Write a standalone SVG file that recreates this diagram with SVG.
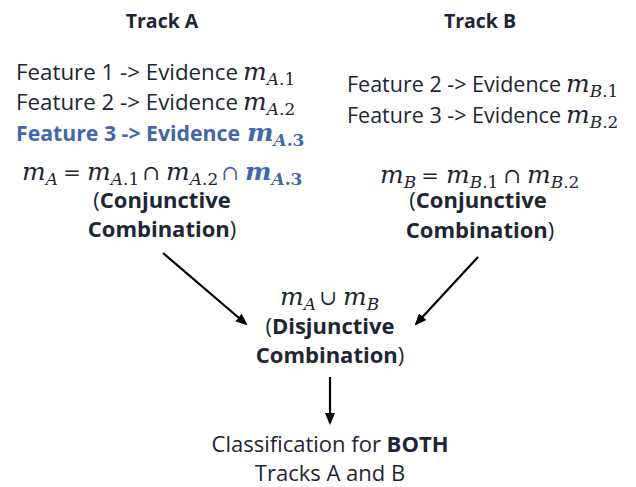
<svg xmlns="http://www.w3.org/2000/svg" width="636" height="487" viewBox="0 0 636 487">
  <style>
    .t { font-family: "Open Sans", "Noto Sans", sans-serif; font-size: 22px; fill: #1e2535; }
    .hd { font-family: "Open Sans", "Noto Sans", sans-serif; font-size: 19.5px; font-weight: bold; fill: #1e2535; }
    .h { font-weight: bold; }
    .mt { font-family: "DejaVu Serif", "Liberation Serif", serif; fill: #1e2535; }
    .m { font-style: italic; font-size: 25px; }
    .s { font-size: 17px; }
    .si { font-style: italic; }
    .op { font-family: "DejaVu Serif", "Liberation Serif", serif; font-size: 21px; fill: #1e2535; }
    .blue { fill: #4466aa; }
    .arrow { stroke: #000; stroke-width: 2.2; fill: none; marker-end: url(#head); }
  </style>
  <defs>
    <marker id="head" markerWidth="12" markerHeight="10" refX="10" refY="5" orient="auto" markerUnits="userSpaceOnUse" viewBox="0 0 12 10">
      <path d="M0,0 L12,5 L0,10 Z" fill="#000"/>
    </marker>
  </defs>
  <rect width="636" height="487" fill="#fff"/>

  <g id="trackA">
    <text class="hd" x="162" y="28" text-anchor="middle">Track A</text>
    <text class="t" x="16" y="80" textLength="222" lengthAdjust="spacingAndGlyphs">Feature 1 -&gt; Evidence</text>
    <text class="mt" x="243" y="80"><tspan class="m">m</tspan><tspan class="s" dy="5"><tspan class="si">A</tspan>.1</tspan></text>
    <text class="t" x="16" y="110" textLength="222" lengthAdjust="spacingAndGlyphs">Feature 2 -&gt; Evidence</text>
    <text class="mt" x="243" y="110"><tspan class="m">m</tspan><tspan class="s" dy="5"><tspan class="si">A</tspan>.2</tspan></text>
    <text class="t h blue" x="16" y="141" textLength="224" lengthAdjust="spacingAndGlyphs">Feature 3 -&gt; Evidence</text>
    <text class="mt h blue" x="247" y="141"><tspan class="m">m</tspan><tspan class="s" dy="5"><tspan class="si">A</tspan>.3</tspan></text>

    <!-- m_A = m_A.1 ∩ m_A.2 ∩ m_A.3 -->
    <text class="mt" x="22" y="180"><tspan class="m">m</tspan><tspan class="s si" dy="5">A</tspan></text>
    <text class="op" x="72" y="180" text-anchor="middle">=</text>
    <text class="mt" x="87" y="180"><tspan class="m">m</tspan><tspan class="s" dy="5"><tspan class="si">A</tspan>.1</tspan></text>
    <text class="op" x="151" y="180" text-anchor="middle">∩</text>
    <text class="mt" x="166" y="180"><tspan class="m">m</tspan><tspan class="s" dy="5"><tspan class="si">A</tspan>.2</tspan></text>
    <text class="op blue" x="230" y="180" text-anchor="middle">∩</text>
    <text class="mt h blue" x="245" y="180"><tspan class="m">m</tspan><tspan class="s" dy="5"><tspan class="si">A</tspan>.3</tspan></text>

    <text class="t" x="162" y="208" text-anchor="middle">(<tspan class="h">Conjunctive</tspan></text>
    <text class="t" x="162" y="237" text-anchor="middle"><tspan class="h">Combination</tspan>)</text>
  </g>

  <g id="trackB">
    <text class="hd" x="480" y="28" text-anchor="middle">Track B</text>
    <text class="t" x="347" y="92" textLength="214" lengthAdjust="spacingAndGlyphs">Feature 2 -&gt; Evidence</text>
    <text class="mt" x="566" y="92"><tspan class="m">m</tspan><tspan class="s" dy="5"><tspan class="si">B</tspan>.1</tspan></text>
    <text class="t" x="347" y="123" textLength="214" lengthAdjust="spacingAndGlyphs">Feature 3 -&gt; Evidence</text>
    <text class="mt" x="566" y="123"><tspan class="m">m</tspan><tspan class="s" dy="5"><tspan class="si">B</tspan>.2</tspan></text>

    <!-- m_B = m_B.1 ∩ m_B.2 -->
    <text class="mt" x="380" y="183"><tspan class="m">m</tspan><tspan class="s si" dy="5">B</tspan></text>
    <text class="op" x="430" y="183" text-anchor="middle">=</text>
    <text class="mt" x="446" y="183"><tspan class="m">m</tspan><tspan class="s" dy="5"><tspan class="si">B</tspan>.1</tspan></text>
    <text class="op" x="512" y="183" text-anchor="middle">∩</text>
    <text class="mt" x="527" y="183"><tspan class="m">m</tspan><tspan class="s" dy="5"><tspan class="si">B</tspan>.2</tspan></text>

    <text class="t" x="478" y="208" text-anchor="middle">(<tspan class="h">Conjunctive</tspan></text>
    <text class="t" x="480" y="238" text-anchor="middle"><tspan class="h">Combination</tspan>)</text>
  </g>

  <g id="disjunctive">
    <!-- m_A ∪ m_B -->
    <text class="mt" x="280" y="305"><tspan class="m">m</tspan><tspan class="s si" dy="5">A</tspan></text>
    <text class="op" x="328" y="305" text-anchor="middle">∪</text>
    <text class="mt" x="343" y="305"><tspan class="m">m</tspan><tspan class="s si" dy="5">B</tspan></text>
    <text class="t" x="330" y="334" text-anchor="middle">(<tspan class="h">Disjunctive</tspan></text>
    <text class="t" x="330" y="363" text-anchor="middle"><tspan class="h">Combination</tspan>)</text>
  </g>

  <g id="result">
    <text class="t" x="330" y="452" text-anchor="middle">Classification for <tspan class="h">BOTH</tspan></text>
    <text class="t" x="330" y="481" text-anchor="middle">Tracks A and B</text>
  </g>

  <g id="connectors">
    <line class="arrow" x1="163" y1="253" x2="246" y2="324"/>
    <line class="arrow" x1="478" y1="257" x2="416" y2="324"/>
    <line class="arrow" x1="330" y1="377" x2="330" y2="423"/>
  </g>
</svg>
